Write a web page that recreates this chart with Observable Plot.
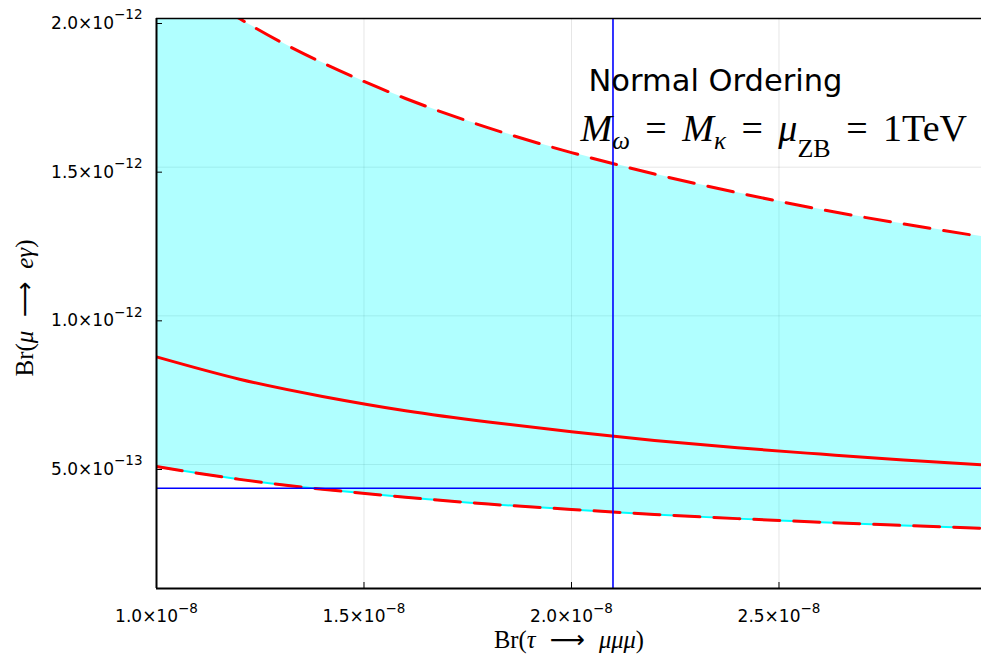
<!DOCTYPE html>
<html><head><meta charset="utf-8">
<script src="https://cdn.jsdelivr.net/npm/d3@7"></script>
<script src="https://cdn.jsdelivr.net/npm/@observablehq/plot@0.6"></script>
<style>body{margin:0;background:#fff;} svg{display:block}</style>
</head><body><div id="chart"></div>
<script>
// Br(tau -> mu mu mu) sample points
const brTau       = [1.0e-8, 1.2e-8, 1.4e-8, 1.6e-8, 1.8e-8, 2.0e-8, 2.2e-8, 2.4e-8, 2.6e-8, 2.8e-8, 3.0e-8];
// Br(mu -> e gamma): upper edge, central curve, lower edge of the band
const brMuUpper   = [2.19e-12, 2.00e-12, 1.851e-12, 1.731e-12, 1.632e-12, 1.549e-12, 1.477e-12, 1.414e-12, 1.358e-12, 1.309e-12, 1.264e-12];
const brMuCentral = [0.862e-12, 0.787e-12, 0.729e-12, 0.681e-12, 0.643e-12, 0.610e-12, 0.581e-12, 0.556e-12, 0.535e-12, 0.515e-12, 0.498e-12];
const brMuLower   = [0.493e-12, 0.450e-12, 0.417e-12, 0.390e-12, 0.367e-12, 0.349e-12, 0.332e-12, 0.318e-12, 0.306e-12, 0.295e-12, 0.285e-12];
// experimental limits
const tauLimit = [2.1e-8];
const muLimit  = [4.2e-13];
// ticks and domains
const xTicks = [1.0e-8, 1.5e-8, 2.0e-8, 2.5e-8];
const yTicks = [5.0e-13, 1.0e-12, 1.5e-12, 2.0e-12];
const xDomain = [1.0e-8, 2.988e-8];
const yDomain = [0.83e-13, 2.0e-12];
// texts
const xTitle = "Br(τ → μμμ)";
const yTitle = "Br(μ → eγ)";
const title1 = "Normal Ordering";
const title2 = "Mω = Mκ = μZB = 1TeV";

const rows = brTau.map((x, i) => ({x, hi: brMuUpper[i], mid: brMuCentral[i], lo: brMuLower[i]}));

function sci(d) {
  const e = Math.floor(Math.log10(d) + 1e-9);
  const m = d / Math.pow(10, e);
  return m.toFixed(1) + "×10^" + (e < 0 ? "\u2212" : "") + Math.abs(e);
}

const serif = "'Liberation Serif', 'DejaVu Serif', serif";

const chart = Plot.plot({
  width: 981, height: 657,
  marginLeft: 156, marginRight: 0, marginTop: 18, marginBottom: 69,
  x: {domain: xDomain},
  y: {domain: yDomain},
  style: {fontFamily: "'DejaVu Sans', sans-serif", fontSize: "16px", color: "black", background: "white", overflow: "visible"},
  marks: [
    Plot.gridX(xTicks, {stroke: "#000", strokeOpacity: 0.1, strokeWidth: 1}),
    Plot.gridY(yTicks, {stroke: "#000", strokeOpacity: 0.1, strokeWidth: 1}),
    Plot.areaY(rows, {x: "x", y1: "lo", y2: "hi", fill: "#00ffff", fillOpacity: 0.31, curve: "natural", clip: true}),
    Plot.line(rows, {x: "x", y: "lo", stroke: "#00ffff", strokeWidth: 2, curve: "natural", clip: true}),
    Plot.line(rows, {x: "x", y: "lo", stroke: "#ff0000", strokeWidth: 3, strokeDasharray: "26,14", curve: "natural", clip: true}),
    Plot.line(rows, {x: "x", y: "hi", stroke: "#ff0000", strokeWidth: 3, strokeDasharray: "26,14", curve: "natural", clip: true}),
    Plot.line(rows, {x: "x", y: "mid", stroke: "#ff0000", strokeWidth: 3, curve: "natural", clip: true}),
    Plot.ruleX(tauLimit, {stroke: "#0000ff", strokeWidth: 1.6}),
    Plot.ruleY(muLimit, {stroke: "#0000ff", strokeWidth: 1.6}),
    Plot.ruleX([xDomain[0]], {stroke: "black", strokeWidth: 2}),
    Plot.ruleY([yDomain[0]], {stroke: "black", strokeWidth: 2}),
    Plot.ruleY([yDomain[1]], {stroke: "black", strokeWidth: 1.5}),
    Plot.axisX(xTicks, {tickSize: -6, tickPadding: 27.5, tickFormat: sci, label: null, fontSize: 17}),
    Plot.axisY(yTicks, {tickSize: -6, tickPadding: 20, tickFormat: sci, label: null, dy: 5, fontSize: 17}),
    Plot.text([xTitle], {frameAnchor: "bottom", textAnchor: "middle", lineAnchor: "bottom", dy: 59, fontFamily: serif, fontSize: 24.5}),
    Plot.text([yTitle], {frameAnchor: "left", textAnchor: "middle", lineAnchor: "bottom", rotate: -90, dx: -124, dy: 4.5, fontFamily: serif, fontSize: 25}),
    Plot.text([{x: 2.041e-8, y: 1.7576e-12, t: title1}], {x: "x", y: "y", text: "t", textAnchor: "start", lineAnchor: "bottom", fontSize: 30.5}),
    Plot.text([{x: 2.0217e-8, y: 1.589e-12, t: title2}], {x: "x", y: "y", text: "t", textAnchor: "start", lineAnchor: "bottom", fontFamily: serif, fontSize: 38})
  ]
});
document.getElementById("chart").appendChild(chart);

const NS = "http://www.w3.org/2000/svg";
function setRich(el, segs) {
  while (el.firstChild) el.removeChild(el.firstChild);
  for (const s of segs) {
    const ts = document.createElementNS(NS, "tspan");
    ts.textContent = s.t;
    if (s.it) ts.setAttribute("font-style", "italic");
    if (s.fs) ts.setAttribute("font-size", s.fs);
    if (s.dy) ts.setAttribute("dy", s.dy);
    if (s.ff) ts.setAttribute("font-family", s.ff);
    el.appendChild(ts);
  }
}
// tick labels with superscript exponents
chart.querySelectorAll('g[aria-label$="tick label"] text').forEach(el => {
  const parts = el.textContent.split("^");
  if (parts.length < 2) return;
  setRich(el, [{t: parts[0]}, {t: parts[1], fs: 13.5, dy: -9.5}]);
});
// rich text: segments and the width (px) the text spans in the figure
const arrowFont = "'DejaVu Sans', sans-serif";
const rich = {
  [xTitle]: {w: 150, segs: [{t: "Br("}, {t: "τ", it: 1}, {t: " "}, {t: "⟶", ff: arrowFont}, {t: " "}, {t: "μμμ", it: 1}, {t: ")"}]},
  [yTitle]: {w: 137, segs: [{t: "Br("}, {t: "μ", it: 1}, {t: " "}, {t: "⟶", ff: arrowFont}, {t: " "}, {t: "eγ", it: 1}, {t: ")"}]},
  [title2]: {w: 388, segs: [{t: "M", it: 1}, {t: "ω", it: 1, fs: 25, dy: 8}, {t: " = ", dy: -8}, {t: "M", it: 1},
             {t: "κ", it: 1, fs: 25, dy: 8}, {t: " = ", dy: -8}, {t: "μ", it: 1},
             {t: "ZB", fs: 26, dy: 16}, {t: " = 1TeV", dy: -16}]}
};
chart.querySelectorAll("text").forEach(el => {
  const r = rich[el.textContent];
  if (!r) return;
  setRich(el, r.segs);
  const n = r.segs.reduce((a, s) => a + (s.t.match(/ /g) || []).length, 0);
  const width = el.getBBox().width;
  el.setAttribute("word-spacing", ((r.w - width) / n).toFixed(2));
});
</script>
</body></html>
